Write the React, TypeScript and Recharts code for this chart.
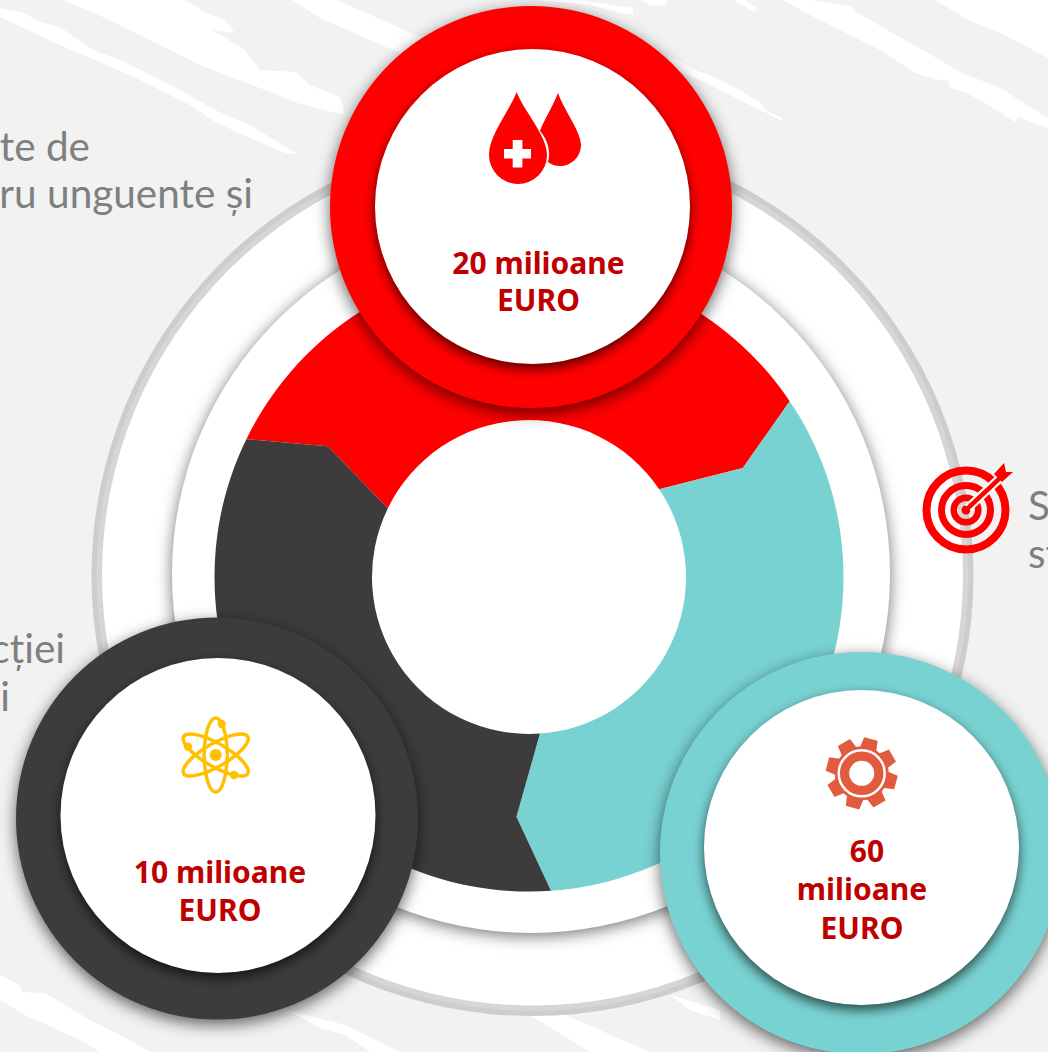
import React from 'react';
import { PieChart, Pie } from 'recharts';

const W = 1048;
const H = 1052;

// Data
const segmentNames = ['Roșu', 'Turcoaz', 'Gri închis'];
const segmentShares = [1, 1, 1];
const segmentColors = ['#ff0000', '#79d2d2', '#3d3b3c'];
const badgeAmounts = [20, 10, 60];
const badgeColors = ['#ff0000', '#3d3b3c', '#79d2d2'];
const badgeCentersX = [531, 217, 861];
const badgeCentersY = [207, 818.5, 853];
const innerCentersX = [532.5, 218, 861.5];
const innerCentersY = [206.5, 815.5, 847.5];
const badgeLines = [
  ['20 milioane', 'EURO'],
  ['10 milioane', 'EURO'],
  ['60', 'milioane', 'EURO'],
];
const badgeTextX = [
  [538.5, 538.5],
  [220, 220],
  [867, 862, 862],
];
const badgeTextBaselines = [
  [274, 311],
  [883, 921],
  [862, 900, 939],
];
const sideLines = [
  { text: 'te de', x: 90, y: 161, anchor: 'end' },
  { text: 'ru unguente și', x: 253, y: 208, anchor: 'end' },
  { text: 'cției', x: 65, y: 663, anchor: 'end' },
  { text: 'i', x: 10, y: 711, anchor: 'end' },
  { text: 'Se', x: 1028, y: 520, anchor: 'start' },
  { text: 'st', x: 1028, y: 568, anchor: 'start' },
];
const gearToothAngles = [75, 120, 165, 210, 255, 300, 345, 30];
const whiteStrokes = [
  'M0,8 L25,13 L40,22 L60,27 L93,50 L125,62 L180,90 L215,110 L250,125 L297,154 L285,153 L250,138 L215,122 L190,105 L130,75 L60,45 L0,17 Z',
  'M63,0 L185,0 L205,12 L225,20 L235,33 L212,30 L245,50 L260,70 L295,72 L310,85 L340,97 L345,115 L300,104 L260,88 L200,65 L170,50 L105,18 Z',
  'M292,0 L337,0 L420,37 L420,60 L397,52 L320,18 Z',
  'M537,0 L580,0 L633,8 L633,14 L625,14 L590,5 Z',
  'M640,0 L667,0 L665,6 L650,5 Z',
  'M667,55 L700,72 L712,76 L740,90 L763,105 L765,110 L782,118 L783,121 L740,100 L700,80 L675,70 Z',
  'M783,0 L810,0 L850,6 L855,12 L870,20 L940,60 L960,72 L1000,88 L1048,118 L1048,128 L1040,125 L1018,117 L1015,122 L1000,112 L965,92 L950,88 L948,80 L940,80 L915,73 L880,50 L840,30 L810,15 Z',
  'M935,0 L1048,0 L1048,58 L1005,35 L968,20 Z',
  'M733,0 L745,0 L757,8 L755,12 Z',
  'M0,975 L20,985 L22,992 L45,993 L90,1020 L130,1040 L150,1052 L100,1052 L80,1040 L25,1015 L0,1000 Z',
  'M287,1010 L345,1025 L400,1052 L370,1052 L345,1035 L320,1028 Z',
  'M530,1015 L565,1015 L650,1052 L590,1052 Z',
  'M670,995 L720,1010 L720,1020 L690,1010 Z',
];

const SHADOW_DISC = 'drop-shadow(0 3px 8px rgba(0,0,0,0.55))';
const SHADOW_RING = 'drop-shadow(0 5px 8px rgba(0,0,0,0.6))';
const SHADOW_INNER = 'drop-shadow(0 5px 6px rgba(0,0,0,0.65))';

const polar = (cx: number, cy: number, r: number, deg: number) => {
  const t = (deg * Math.PI) / 180;
  return [cx + r * Math.cos(t), cy - r * Math.sin(t)];
};

const ChevronSector = (p: any) => {
  const { cx, cy, innerRadius: r, outerRadius: R, startAngle: a0, endAngle: a1, fill } = p;
  const midR = 240;
  const lag = 7;
  const A = polar(cx, cy, R, a0);
  const B = polar(cx, cy, R, a1);
  const M1 = polar(cx, cy, midR, a1 - lag);
  const C = polar(cx, cy, r, a1);
  const D = polar(cx, cy, r, a0);
  const M0 = polar(cx, cy, midR, a0 - lag);
  const d = `M${A} A${R},${R} 0 0 1 ${B} L${M1} L${C} A${r},${r} 0 0 0 ${D} L${M0} Z`;
  return <path d={d} fill={fill} stroke="none" />;
};

const disc = (filter?: string) => (p: any) => (
  <circle cx={p.cx} cy={p.cy} r={p.outerRadius} fill={p.fill} style={filter ? { filter } : undefined} />
);

const segmentData = segmentNames.map((name, i) => ({
  name,
  value: segmentShares[i],
  fill: segmentColors[i],
}));

const fullPie = (key: string, cx: number, cy: number, r: number, fill: string, filter?: string, value = 1) => (
  <Pie
    key={key}
    data={[{ value, fill }]}
    dataKey="value"
    cx={cx}
    cy={cy}
    innerRadius={0}
    outerRadius={r}
    startAngle={90}
    endAngle={-270}
    stroke="none"
    isAnimationActive={false}
    shape={disc(filter)}
  />
);

const RED = '#ff0000';
const drop1 = 'M516.7,92 C510,110 489,135 489,155 A29,29 0 1 0 547,155 C547,135 523,110 516.7,92 Z';
const drop2 = 'M558,93 C552,108 544,120 540,131 C548,140 551,152 548,162 C552,165 556,166 560,166 A21,21 0 0 0 581,145 C581,132 565,112 558,93 Z';

const Icons = () => (
  <g>
    {/* blood drops */}
    <path d={drop1} fill={RED} />
    <path d={drop2} fill={RED} />
    <rect x={504} y={149} width={27} height={9.5} fill="#fff" />
    <rect x={512.7} y={140} width={9.7} height={27.5} fill="#fff" />

    {/* atom */}
    <g transform="translate(215.7 755)" fill="none" stroke="#ffc000" strokeWidth={3.5}>
      <ellipse rx={11.5} ry={37} />
      <ellipse rx={11.5} ry={37} transform="rotate(60)" />
      <ellipse rx={11.5} ry={37} transform="rotate(-60)" />
      <circle r={10} fill="#fff" stroke="none" />
      <circle r={6} fill="#ffc000" stroke="none" />
    </g>
    <circle cx={221.7} cy={724} r={4.2} fill="#ffc000" />
    <circle cx={188} cy={746.7} r={4.2} fill="#ffc000" />
    <circle cx={234} cy={775} r={4.2} fill="#ffc000" />

    {/* gear */}
    <g transform="translate(861.7 773.3)">
      {gearToothAngles.map((a) => (
        <path key={a} d="M-9,-20 L-7,-35.5 L7,-35.5 L9,-20 Z" fill="#e15b3f" transform={`rotate(${90 - a})`} />
      ))}
      <circle r={27} fill="#e15b3f" />
      <circle r={23} fill="none" stroke="#fff" strokeWidth={2.5} />
      <circle r={12.5} fill="#fff" />
    </g>

    {/* target */}
    <g fill="none" stroke={RED}>
      <circle cx={966} cy={510} r={39.5} strokeWidth={8} />
      <circle cx={966} cy={510} r={24.5} strokeWidth={7} />
      <circle cx={966} cy={510} r={12.3} strokeWidth={6.5} />
    </g>
    <circle cx={966} cy={510} r={4.5} fill={RED} />
    <line x1={968} y1={508} x2={1000} y2={478} stroke="#fff" strokeWidth={9} />
    <line x1={966} y1={510} x2={1000} y2={478} stroke={RED} strokeWidth={4.5} />
    <path d="M994,474 L1004,463 L1006,472 L1013,472 L1002,482 Z" fill={RED} />
  </g>
);

export default function App() {
  return (
    <div style={{ position: 'absolute', left: 0, top: 0, width: W, height: H, overflow: 'hidden', background: '#f2f2f2' }}>
      <svg width={W} height={H} style={{ position: 'absolute', left: 0, top: 0 }}>
        {whiteStrokes.map((d, i) => (
          <path key={i} d={d} fill="#fff" />
        ))}
      </svg>
      <div style={{ position: 'absolute', left: 0, top: 0 }}>
        <PieChart width={W} height={H} margin={{ top: 0, right: 0, bottom: 0, left: 0 }}>
          {fullPie('ring1', 532.5, 575, 441, '#cfcccc')}
          {fullPie('ring2', 532.5, 575, 436, '#d7d5d5')}
          {fullPie('ring3', 532.5, 575, 430.5, '#ffffff')}
          {fullPie('disc', 531, 574, 359, '#ffffff', SHADOW_DISC)}
          <Pie
            data={segmentData}
            dataKey="value"
            nameKey="name"
            cx={529}
            cy={577}
            innerRadius={157}
            outerRadius={314.5}
            startAngle={154}
            endAngle={-206}
            stroke="none"
            isAnimationActive={false}
            shape={ChevronSector}
          />
          {badgeAmounts.map((v, i) => fullPie(`b${i}`, badgeCentersX[i], badgeCentersY[i], 201, badgeColors[i], SHADOW_RING, v))}
          {badgeAmounts.map((v, i) => fullPie(`w${i}`, innerCentersX[i], innerCentersY[i], 157.5, '#ffffff', SHADOW_INNER, v))}
        </PieChart>
      </div>
      <svg width={W} height={H} style={{ position: 'absolute', left: 0, top: 0 }}>
        <Icons />
        {sideLines.map((l) => (
          <text key={l.text} x={l.x} y={l.y} textAnchor={l.anchor as any} fontFamily="Lato" fontSize={40.5} fill="#7f7f7f">
            {l.text}
          </text>
        ))}
        {badgeLines.map((lines, i) =>
          lines.map((t, j) => (
            <text
              key={`${i}-${j}`}
              x={badgeTextX[i][j]}
              y={badgeTextBaselines[i][j]}
              textAnchor="middle"
              fontFamily="'Noto Sans'"
              fontWeight={700}
              fontSize={30}
              fill="#c00000"
            >
              {t}
            </text>
          )),
        )}
      </svg>
    </div>
  );
}
